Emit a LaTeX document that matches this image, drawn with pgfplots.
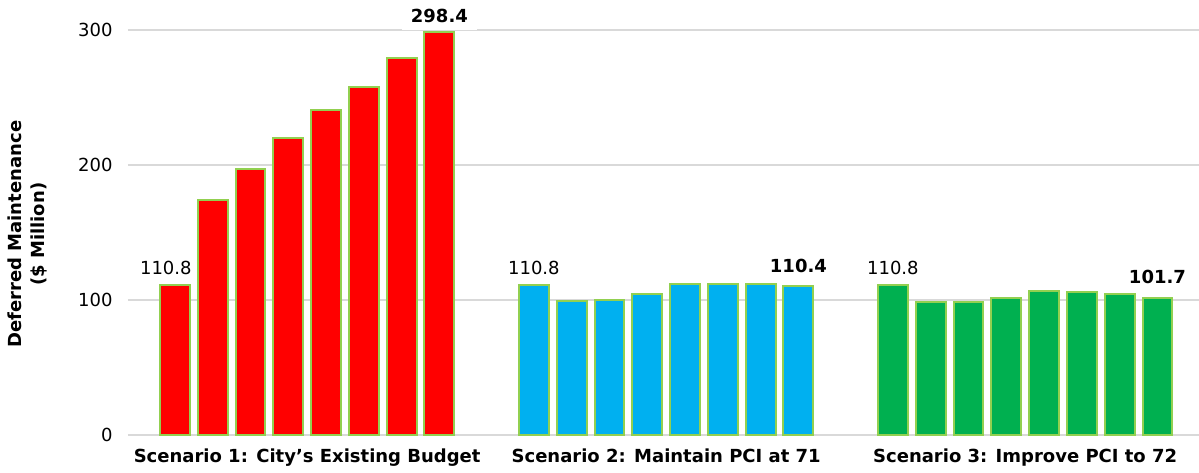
\documentclass[border=0pt]{standalone}
\usepackage{fontspec}
\setmainfont{DejaVu Sans}
\usepackage{pgfplots}
\pgfplotsset{compat=1.18}
\definecolor{barred}{HTML}{FF0000}
\definecolor{barblue}{HTML}{00B0F0}
\definecolor{bargreen}{HTML}{00B050}
\definecolor{edgegreen}{HTML}{92D050}
\definecolor{gridgray}{HTML}{D9D9D9}
\newcommand{\fs}{\fontsize{18}{21}\selectfont}
\begin{document}
\begin{tikzpicture}
\path[use as bounding box] (-128pt,-38pt) rectangle (1071pt,435pt);
\begin{axis}[
  at={(0,0)}, anchor=south west,
  width=1071pt, height=432pt, scale only axis,
  xmin=-1.24, xmax=27.1, ymin=0, ymax=320,
  axis line style={draw=none},
  major tick length=0pt,
  ytick={0,100,200,300},
  xtick={3.5,13,22.5},
  xticklabels={Scenario 1: City’s Existing Budget, Scenario 2: Maintain PCI at 71, Scenario 3: Improve PCI to 72},
  xticklabel style={font=\fs\bfseries, yshift=-10pt},
  yticklabel style={font=\fs, xshift=-12pt},
  /pgf/number format/assume math mode=true,
  ymajorgrids, grid style={gridgray, line width=1.5pt},
  ylabel={Deferred Maintenance\\(\$ Million)},
  every axis y label/.style={at={(axis description cs:-0.0934,0.465)}, rotate=90, anchor=center,
    font=\fontsize{18}{23}\selectfont\bfseries, align=center},
  ybar, bar width=0.79, bar shift=0pt,
  clip=false,
]
\addplot[fill=barred, draw=edgegreen, line width=2pt] coordinates {
  (0,110.8) (1,174.1) (2,196.8) (3,220.2) (4,240.7) (5,257.8) (6,279.3) (7,298.4)};
\addplot[fill=barblue, draw=edgegreen, line width=2pt] coordinates {
  (9.5,110.8) (10.5,99.5) (11.5,100.2) (12.5,104.5) (13.5,111.7) (14.5,112.1) (15.5,112.1) (16.5,110.4)};
\addplot[fill=bargreen, draw=edgegreen, line width=2pt] coordinates {
  (19,110.8) (20,98.7) (21,98.3) (22,101.3) (23,106.9) (24,105.9) (25,104.6) (26,101.7)};
\node[font=\fs, anchor=south, yshift=7pt, xshift=-9pt] at (axis cs:0,110.8) {110.8};
\node[font=\fs, anchor=south, yshift=7pt] at (axis cs:9.5,110.8) {110.8};
\node[font=\fs, anchor=south, yshift=7pt] at (axis cs:19,110.8) {110.8};
\node[font=\fs\bfseries, anchor=south, yshift=2pt, fill=white, inner xsep=9pt, inner ysep=7pt] at (axis cs:7,298.4) {298.4};
\node[font=\fs\bfseries, anchor=south, yshift=10pt] at (axis cs:16.5,110.4) {110.4};
\node[font=\fs\bfseries, anchor=south, yshift=10pt] at (axis cs:26,101.7) {101.7};
\end{axis}
\end{tikzpicture}
\end{document}
